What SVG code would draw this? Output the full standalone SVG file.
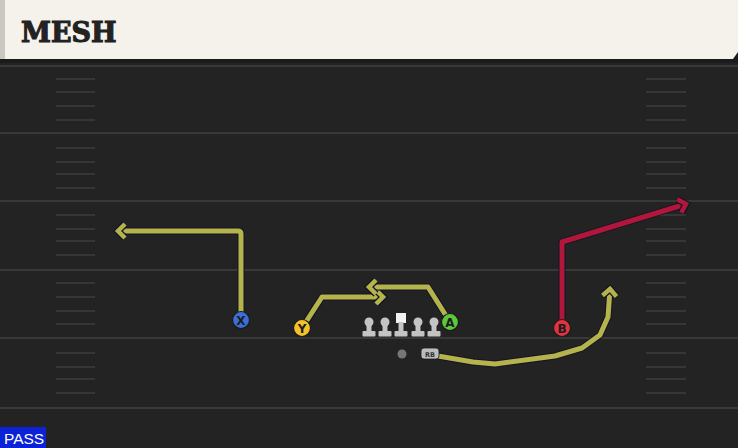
<svg xmlns="http://www.w3.org/2000/svg" width="738" height="448" viewBox="0 0 738 448">
<style>
.yl{stroke:#383838;stroke-width:2}
.hm{stroke:#363636;stroke-width:2}
.ol{fill:none;stroke:#14142a;stroke-width:7;stroke-linejoin:round;stroke-linecap:butt}
.ry{fill:none;stroke:#b4b44a;stroke-width:5;stroke-linejoin:round}
.rr{fill:none;stroke:#b0173a;stroke-width:5;stroke-linejoin:round}
.pl{stroke:#1a1a1a;stroke-width:1.2}
.lt{font-family:"DejaVu Sans","Liberation Sans",sans-serif;font-weight:bold;font-size:12px;fill:#1c1c1c;text-anchor:middle}
.lm{fill:#c4c4c4}
</style>
<defs>
<marker id="ay" markerUnits="userSpaceOnUse" markerWidth="24" markerHeight="24" refX="0" refY="0" viewBox="-12 -12 24 24" orient="auto" overflow="visible">
<path d="M-7,-7 L0,0 L-7,7" fill="none" stroke="#14142a" stroke-width="7" stroke-linejoin="miter"/>
<path d="M-7,-7 L0,0 L-7,7" fill="none" stroke="#b4b44a" stroke-width="4.5" stroke-linejoin="miter"/>
</marker>
<marker id="ar" markerUnits="userSpaceOnUse" markerWidth="24" markerHeight="24" refX="0" refY="0" viewBox="-12 -12 24 24" orient="auto" overflow="visible">
<path d="M-7,-7 L0,0 L-7,7" fill="none" stroke="#14142a" stroke-width="7" stroke-linejoin="miter"/>
<path d="M-7,-7 L0,0 L-7,7" fill="none" stroke="#b0173a" stroke-width="4.5" stroke-linejoin="miter"/>
</marker>
<g id="lineman">
<circle cx="0" cy="-6" r="4.5" class="lm"/>
<rect x="-2.5" y="-4" width="5" height="8" class="lm"/>
<rect x="-6.5" y="3" width="13" height="5.5" rx="1" class="lm"/>
</g>
</defs>
<rect x="0" y="0" width="738" height="448" fill="#232323"/>
<g id="header">
<rect x="0" y="0" width="738" height="63" fill="#1b1b1b"/>
<path d="M0,0 H738 V52 L733,59 H0 Z" fill="#f5f2eb"/>
<rect x="0" y="0" width="5" height="59" fill="#c9c7c1"/>
<text x="21" y="42" font-family="'DejaVu Serif',serif" font-weight="bold" font-size="27" fill="#222" stroke="#222" stroke-width="1.1">MESH</text>
</g>
<g id="field">
<line class="yl" x1="0" y1="66" x2="738" y2="66"/>
<line class="yl" x1="0" y1="133" x2="738" y2="133"/>
<line class="yl" x1="0" y1="201" x2="738" y2="201"/>
<line class="yl" x1="0" y1="270" x2="738" y2="270"/>
<line class="yl" x1="0" y1="338" x2="738" y2="338"/>
<line class="yl" x1="0" y1="408" x2="738" y2="408"/>
<g class="hm">
<path d="M56,79H95M56,92H95M56,106H95M56,120H95M56,148H95M56,162H95M56,174H95M56,188H95M56,215H95M56,229H95M56,241H95M56,255H95M56,283H95M56,297H95M56,311H95M56,324H95M56,353H95M56,367H95M56,379H95M56,393H95"/>
<path d="M646,79H686M646,92H686M646,106H686M646,120H686M646,148H686M646,162H686M646,174H686M646,188H686M646,215H686M646,229H686M646,241H686M646,255H686M646,283H686M646,297H686M646,311H686M646,324H686M646,353H686M646,367H686M646,379H686M646,393H686"/>
</g>
</g>
<g id="connectors">
<path class="ol" d="M241,320 V234 Q241,231 238,231 H118"/>
<path class="ry" d="M241,320 V234 Q241,231 238,231 H118" marker-end="url(#ay)"/>
<path class="ol" d="M302,328 L322,297 H383"/>
<path class="ry" d="M302,328 L322,297 H383" marker-end="url(#ay)"/>
<path class="ol" d="M450,322 L428,287 H369"/>
<path class="ry" d="M450,322 L428,287 H369" marker-end="url(#ay)"/>
<path class="ol" d="M562,328 V242 L686,204"/>
<path class="rr" d="M562,328 V242 L686,204" marker-end="url(#ar)"/>
<path class="ol" d="M438,356 L473,362 L495,364 L555,356 L582,348 L600,335 L608,317 L610,289"/>
<path class="ry" d="M438,356 L473,362 L495,364 L555,356 L582,348 L600,335 L608,317 L610,289" marker-end="url(#ay)"/>
</g>
<g id="oline">
<use href="#lineman" x="369" y="328"/>
<use href="#lineman" x="385" y="328"/>
<g id="center">
<rect x="396" y="313" width="10" height="10" fill="#f2f2f2"/>
<rect x="398.5" y="322" width="5" height="9" class="lm"/>
<rect x="394.5" y="331" width="13" height="5.5" rx="1" class="lm"/>
</g>
<use href="#lineman" x="418" y="328"/>
<use href="#lineman" x="434" y="328"/>
</g>
<g id="qb"><circle cx="402" cy="354" r="4.5" fill="#777"/></g>
<g id="rb">
<rect x="421" y="348" width="18" height="11" rx="3" fill="#bdbdbd" stroke="#1a1a1a" stroke-width="0.8"/>
<text x="430" y="356.5" font-family="'DejaVu Sans',sans-serif" font-weight="bold" font-size="6.5" fill="#333" text-anchor="middle">RB</text>
</g>
<g id="X"><circle class="pl" cx="241" cy="320" r="8.5" fill="#3c6fd6"/><text class="lt" x="241" y="324.5">X</text></g>
<g id="Y"><circle class="pl" cx="302" cy="328" r="8.5" fill="#f2c22a"/><text class="lt" x="302" y="332.5">Y</text></g>
<g id="A"><circle class="pl" cx="450" cy="322" r="8.5" fill="#5cc83c"/><text class="lt" x="450" y="326.5">A</text></g>
<g id="B"><circle class="pl" cx="562" cy="328" r="8.5" fill="#e2333f"/><text class="lt" x="562" y="332.5">B</text></g>
<g id="pass">
<rect x="0" y="427" width="46" height="21" fill="#0b22d6"/>
<text x="4" y="444" font-family="'Liberation Sans',Arial,sans-serif" font-size="15.5" fill="#ffffff">PASS</text>
</g>
</svg>
